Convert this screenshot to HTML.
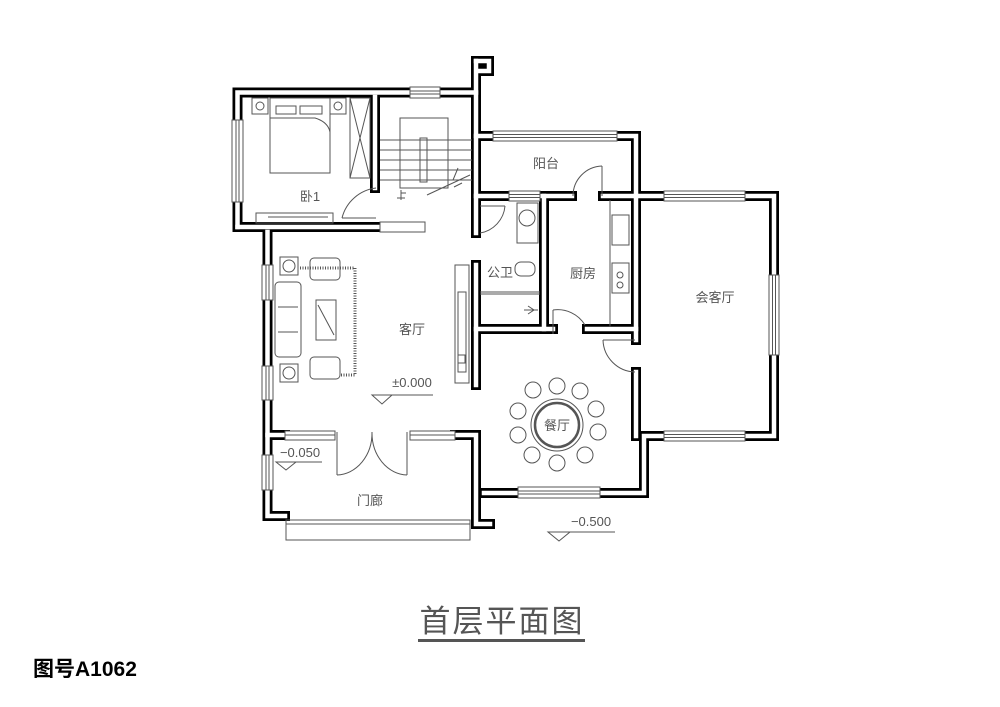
<!DOCTYPE html>
<html><head><meta charset="utf-8"><style>
html,body{margin:0;padding:0;background:#fff;}
svg{display:block}
text{font-family:"Liberation Sans","Noto Sans CJK SC",sans-serif;fill:#555}
</style></head><body>
<svg width="1000" height="707" viewBox="0 0 1000 707" xmlns="http://www.w3.org/2000/svg">
<defs>
<g id="walls" fill="none" stroke-linejoin="miter" stroke-linecap="square">
<path d="M237.5,227 V92.5 H476"/>
<path d="M476,61 H489 V71 H479"/>
<path d="M476,61 V233 M476,265 V385"/>
<path d="M375,97 V188"/>
<path d="M237.5,227 H378"/>
<path d="M267.5,232 V516 H285"/>
<path d="M476,136 H636 V196 H774 V436 H644 V493 H484"/>
<path d="M636,196 V340 M636,372 V436"/>
<path d="M476,196 H572 M603,196 H636"/>
<path d="M544,196 V329"/>
<path d="M476,329 H553 M587,329 H636"/>
<path d="M267.5,435 H285 M455,435 H476 V524 H490"/>
</g>
</defs>
<g stroke="#000" stroke-width="10"><use href="#walls"/></g>
<g stroke="#fff" stroke-width="4.5"><use href="#walls"/></g>

<!-- windows -->
<g fill="#fff" stroke="#555" stroke-width="1">
<rect x="232" y="120" width="11" height="82"/><line x1="236" y1="120" x2="236" y2="202"/><line x1="239" y1="120" x2="239" y2="202"/>
<rect x="410" y="87" width="30" height="11"/><line x1="410" y1="91" x2="440" y2="91"/><line x1="410" y1="94" x2="440" y2="94"/>
<rect x="493" y="131" width="124" height="10"/><line x1="493" y1="134.5" x2="617" y2="134.5"/><line x1="493" y1="137.5" x2="617" y2="137.5"/>
<rect x="509" y="191" width="31" height="10"/><line x1="509" y1="194.5" x2="540" y2="194.5"/><line x1="509" y1="197.5" x2="540" y2="197.5"/>
<rect x="664" y="191" width="81" height="10"/><line x1="664" y1="194.5" x2="745" y2="194.5"/><line x1="664" y1="197.5" x2="745" y2="197.5"/>
<rect x="769" y="275" width="10" height="80"/><line x1="772.5" y1="275" x2="772.5" y2="355"/><line x1="775.5" y1="275" x2="775.5" y2="355"/>
<rect x="664" y="431" width="81" height="10"/><line x1="664" y1="434.5" x2="745" y2="434.5"/><line x1="664" y1="437.5" x2="745" y2="437.5"/>
<rect x="518" y="487" width="82" height="11"/><line x1="518" y1="491" x2="600" y2="491"/><line x1="518" y1="494" x2="600" y2="494"/>
<rect x="262" y="265" width="11" height="35"/><line x1="266" y1="265" x2="266" y2="300"/><line x1="269" y1="265" x2="269" y2="300"/>
<rect x="262" y="366" width="11" height="34"/><line x1="266" y1="366" x2="266" y2="400"/><line x1="269" y1="366" x2="269" y2="400"/>
<rect x="262" y="455" width="11" height="35"/><line x1="266" y1="455" x2="266" y2="490"/><line x1="269" y1="455" x2="269" y2="490"/>
<rect x="285" y="431" width="50" height="9"/><line x1="285" y1="435" x2="335" y2="435"/>
<rect x="410" y="431" width="45" height="9"/><line x1="410" y1="435" x2="455" y2="435"/>
</g>

<!-- porch front & thin lines -->
<g fill="none" stroke="#555" stroke-width="1">
<rect x="286" y="520" width="184" height="20"/><line x1="286" y1="524" x2="470" y2="524"/>
<rect x="380" y="222" width="45" height="10" fill="#fff"/>
<!-- doors -->
<path d="M376,188 A40,40 0 0 0 342,218"/><line x1="342" y1="218" x2="376" y2="218"/>
<path d="M505,206 A30,30 0 0 1 480,233"/><line x1="480" y1="206" x2="505" y2="206"/>
<line x1="602" y1="166" x2="602" y2="196"/><path d="M602,166 A30,30 0 0 0 573,196"/>
<line x1="553" y1="310" x2="553" y2="334"/><path d="M553,310 A32,32 0 0 1 585,325"/>
<line x1="603" y1="340" x2="635" y2="340"/><path d="M603,340 A33,33 0 0 0 635,372"/>
<line x1="337" y1="432" x2="337" y2="475"/><path d="M337,475 A36,42 0 0 0 372,432"/>
<line x1="407" y1="432" x2="407" y2="475"/><path d="M407,475 A36,42 0 0 1 372,432"/>
<!-- stairs -->
<rect x="400" y="118" width="48" height="70"/>
<line x1="380" y1="140" x2="472" y2="140"/><line x1="380" y1="150" x2="472" y2="150"/><line x1="380" y1="160" x2="472" y2="160"/><line x1="380" y1="170" x2="472" y2="170"/><line x1="380" y1="180" x2="472" y2="180"/>
<rect x="420" y="138" width="7" height="44"/>
<path d="M427,195 L470,175"/><path d="M453,180 L458,168 M454,187 L462,183"/>
<line x1="401" y1="190" x2="401" y2="200"/><line x1="397" y1="198" x2="405" y2="198"/><line x1="401" y1="193" x2="406" y2="193"/>
<!-- bed -->
<rect x="270" y="98" width="60" height="75"/>
<rect x="276" y="106" width="20" height="8"/><rect x="300" y="106" width="22" height="8"/>
<path d="M270,118 H315 Q328,122 330,132"/>
<rect x="252" y="98" width="16" height="16"/><circle cx="260" cy="106" r="4"/>
<rect x="330" y="98" width="16" height="16"/><circle cx="338" cy="106" r="4"/>
<rect x="350" y="98" width="20" height="80"/><path d="M350,98 L370,178 M370,98 L350,178"/>
<rect x="256" y="213" width="77" height="10"/><line x1="268" y1="217" x2="328" y2="217"/>
<!-- living furniture -->
<rect x="280" y="257" width="18" height="18"/><circle cx="289" cy="266" r="6"/>
<rect x="280" y="364" width="18" height="18"/><circle cx="289" cy="373" r="6"/>
<rect x="310" y="258" width="30" height="22" rx="4"/><rect x="310" y="357" width="30" height="22" rx="4"/>
<rect x="275" y="282" width="26" height="75" rx="4"/><line x1="278" y1="307" x2="298" y2="307"/><line x1="278" y1="332" x2="298" y2="332"/>
<rect x="316" y="300" width="20" height="40"/><line x1="318" y1="305" x2="334" y2="335"/>
<path d="M300,268 H355 V375 H340" stroke-width="3" stroke-dasharray="1,1.5"/>
<rect x="455" y="265" width="14" height="118"/><rect x="458" y="292" width="8" height="80"/><rect x="458" y="355" width="7" height="8"/>
<!-- 公卫 -->
<rect x="517" y="203" width="21" height="40"/><circle cx="527" cy="218" r="8"/>
<rect x="515" y="262" width="20" height="14" rx="6"/>
<line x1="480" y1="292" x2="540" y2="292"/><line x1="480" y1="294" x2="540" y2="294"/>
<path d="M524,310 H538 M528,306 L534,310 L528,314"/>
<!-- kitchen -->
<line x1="610" y1="200" x2="610" y2="327"/>
<rect x="612" y="215" width="17" height="30"/><rect x="612" y="263" width="17" height="30"/>
<circle cx="620" cy="275" r="3"/><circle cx="620" cy="285" r="3"/>
<!-- dining -->
<circle cx="557" cy="425" r="26"/><circle cx="557" cy="425" r="22" stroke-width="2.5"/>
<g>
<circle cx="557" cy="386" r="8"/><circle cx="580" cy="391" r="8"/><circle cx="596" cy="409" r="8"/><circle cx="598" cy="432" r="8"/><circle cx="585" cy="455" r="8"/>
<circle cx="557" cy="463" r="8"/><circle cx="532" cy="455" r="8"/><circle cx="518" cy="435" r="8"/><circle cx="518" cy="411" r="8"/><circle cx="533" cy="390" r="8"/>
</g>
<!-- level markers -->
<path d="M372,395 L382,404 L392,395 Z M392,395 H433"/>
<path d="M276,462 L286,470 L296,462 Z M296,462 H322"/>
<path d="M548,532 L559,541 L570,532 Z M570,532 H615"/>
</g>

<g font-size="13" text-anchor="middle">
<text x="310" y="201">卧1</text>
<text x="546" y="168">阳台</text>
<text x="500" y="277">公卫</text>
<text x="583" y="278">厨房</text>
<text x="715" y="302">会客厅</text>
<text x="412" y="334">客厅</text>
<text x="557" y="430">餐厅</text>
<text x="370" y="505">门廊</text>
<text x="412" y="387">±0.000</text>
<text x="300" y="457">−0.050</text>
<text x="591" y="526">−0.500</text>
</g>
<text x="501" y="632" font-size="31" text-anchor="middle" textLength="163" style="fill:#555">首层平面图</text>
<rect x="418" y="639" width="167" height="3" fill="#555"/>
<text x="33" y="676" font-size="21" style="fill:#000;font-weight:bold">图号A1062</text>
</svg>
</body></html>
